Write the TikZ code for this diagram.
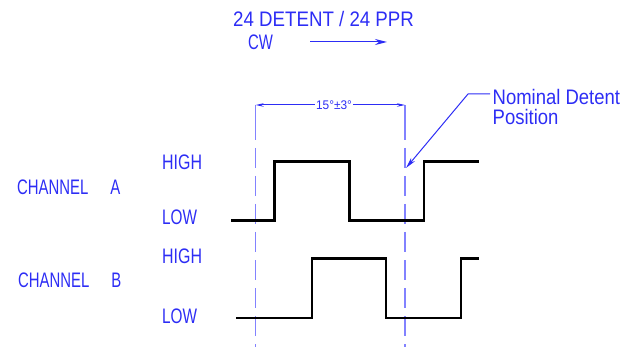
\documentclass[tikz,border=0pt]{standalone}
\usepackage{graphicx}
\usepackage{fontspec}
\setmainfont{Liberation Sans}
\usetikzlibrary{arrows.meta}
\definecolor{cadblue}{RGB}{45,45,245}
\definecolor{dashblue}{RGB}{130,130,255}
\newcommand{\sx}[2]{\scalebox{#1}[1]{#2}}
\tikzset{
  lbl/.style={inner sep=0pt, text=cadblue, font=\fontsize{21}{21}\selectfont, anchor=base west},
  small/.style={inner sep=1.5pt, text=cadblue, fill=white, font=\fontsize{12.5}{12.5}\selectfont},
  wave/.style={line width=2.4pt, black, line join=miter},
  ext/.style={dashblue, line width=1.3pt},
  dim/.style={cadblue, line width=1pt},
  tip/.style={-{Stealth[length=9pt,width=5pt]}},
}
\begin{document}
\begin{tikzpicture}[x=1pt,y=-1pt]
\useasboundingbox (0,0) rectangle (639,347);
% titles
\node[lbl] (title) at (233,27) {\sx{0.89}{24 DETENT / 24 PPR}};
\node[lbl] (cw) at (248,50) {\sx{0.71}{CW}};
\coordinate (cwa) at (310,42);
\coordinate (cwb) at (387,42);
\draw[dim, -{Stealth[length=12pt,width=6pt]}] (cwa) -- (cwb);
% labels
\node[lbl] (chA) at (17,195) {\sx{0.71}{CHANNEL\hspace*{31pt}A}};
\node[lbl] (chB) at (18,287) {\sx{0.71}{CHANNEL\hspace*{31pt}B}};
\node[lbl] (hiA) at (162,170) {\sx{0.76}{HIGH}};
\node[lbl] (loA) at (162,225) {\sx{0.73}{LOW}};
\node[lbl] (hiB) at (162,263) {\sx{0.76}{HIGH}};
\node[lbl] (loB) at (162,323) {\sx{0.73}{LOW}};
% extension / detent lines
\coordinate (e1t) at (255.7,105);
\coordinate (e1m) at (255.7,140);
\coordinate (e1d) at (255.7,148);
\coordinate (e1b) at (255.7,347);
\coordinate (e2t) at (405,105);
\coordinate (e2m) at (405,140);
\coordinate (e2d) at (405,148);
\coordinate (e2b) at (405,347);
\draw[ext] (e1t) -- (e1m);
\draw[ext] (e2t) -- (e2m);
\draw[ext, dash pattern=on 20pt off 8pt] (e1d) -- (e1b);
\draw[ext, dash pattern=on 20pt off 8pt] (e2d) -- (e2b);
% dimension
\draw[dim, {Stealth[length=8pt,width=3.5pt]}-{Stealth[length=8pt,width=3.5pt]}] (e1t) -- (e2t);
\node[small] (dimt) at (334,105) {\sx{0.95}{15°±3°}};
% nominal detent leader
\node[lbl] (nom) at (492.5,105) {\sx{0.88}{Nominal Detent}};
\node[lbl] (pos) at (492.5,125) {\sx{0.88}{Position}};
\coordinate (l0) at (490,94);
\coordinate (l1) at (468,94);
\coordinate (l2) at (406,168);
\draw[dim, -{Stealth[length=11pt,width=5pt]}] (l0) -- (l1) -- (l2);
% channel A waveform
\draw[wave] (231,220.7) -- (274.3,220.7) -- (274.3,161.7) -- (349.3,161.7) -- (349.3,220.7) -- (424,220.7) -- (424,161.7) -- (479,161.7);
% channel B waveform
\draw[wave] (236,317.7) -- (311.7,317.7) -- (311.7,258.3) -- (386,258.3) -- (386,317.7) -- (460.7,317.7) -- (460.7,258.3) -- (479,258.3);
\end{tikzpicture}
\end{document}
